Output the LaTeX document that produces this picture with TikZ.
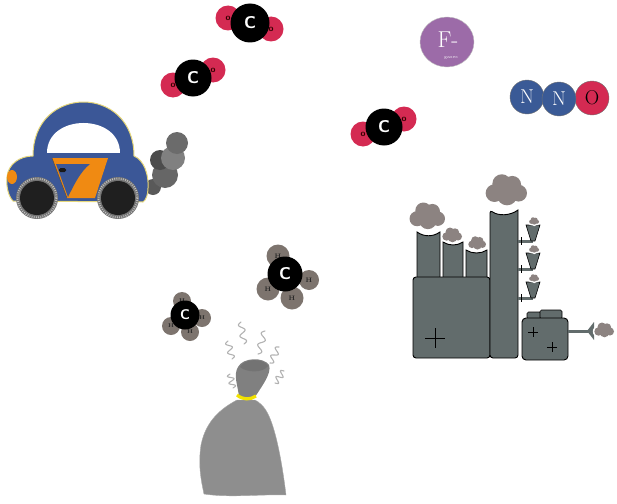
\documentclass[tikz,border=0pt]{standalone}
\usepackage{xcolor}
\usetikzlibrary{shapes.geometric}

\definecolor{carblue}{HTML}{3B5797}
\definecolor{caryellow}{HTML}{E6D77A}
\definecolor{doororange}{HTML}{F08A12}
\definecolor{oxyred}{HTML}{D42A52}
\definecolor{nitroblue}{HTML}{3A5A96}
\definecolor{fgas}{HTML}{9C6BA8}
\definecolor{hgray}{HTML}{7D746E}
\definecolor{smoke}{HTML}{8C8381}
\definecolor{plant}{HTML}{626C6C}
\definecolor{bag}{HTML}{8E8E8E}
\definecolor{bagtie}{HTML}{F2E200}

\tikzset{
    atom/.style={circle, inner sep=0pt},
    carbon/.style={atom, fill=black, text=white, font=\sffamily\bfseries\fontsize{17}{17}\selectfont},
    oxygen/.style={atom, fill=oxyred, minimum size=25pt, text=black!80!red, font=\sffamily\bfseries\fontsize{9}{9}\selectfont},
    hydrogen/.style={atom, fill=hgray, minimum size=23pt, text=black!85, font=\bfseries\fontsize{6.5}{6.5}\selectfont},
    nitrogen/.style={atom, fill=nitroblue, draw=black!55, minimum size=34pt, text=white, font=\fontsize{20}{20}\selectfont},
    plantpart/.style={fill=plant, draw=black, line width=0.9pt},
    stinkline/.style={gray!60, line width=1.1pt, line cap=round},
}

% smoke cloud: x, y, size
\newcommand{\smokepuff}[3]{
    \fill[white] (#1-0.55*#3, #2+0.15*#3) circle (0.42*#3+1.5) (#1-0.2*#3, #2-0.3*#3) circle (0.45*#3+1.5)
        (#1+0.3*#3, #2-0.25*#3) circle (0.42*#3+1.5) (#1+0.6*#3, #2+0.15*#3) circle (0.4*#3+1.5)
        (#1+0.05*#3, #2+0.25*#3) circle (0.48*#3+1.5);
    \fill[smoke] (#1-0.55*#3, #2+0.15*#3) circle (0.42*#3) (#1-0.2*#3, #2-0.3*#3) circle (0.45*#3)
        (#1+0.3*#3, #2-0.25*#3) circle (0.42*#3) (#1+0.6*#3, #2+0.15*#3) circle (0.4*#3)
        (#1+0.05*#3, #2+0.25*#3) circle (0.48*#3);
}

% wavy line from (#1,#2) to (#3,#4)
\newcommand{\stink}[4]{
    \draw[stinkline] plot[domain=0:1, samples=30, smooth]
        ({#1+(#3-#1)*\x - 3*sin(\x*720)*(#4-#2)/veclen(#3-#1,#4-#2)},
         {#2+(#4-#2)*\x + 3*sin(\x*720)*(#3-#1)/veclen(#3-#1,#4-#2)});
}

\begin{document}
\begin{tikzpicture}[x=1pt, y=-1pt]
    \useasboundingbox (0, 0) rectangle (617, 503);

    % CO2 molecules
    \node[oxygen] at (228, 18) (o1a) {o};
    \node[oxygen] at (271, 29) (o1b) {o};
    \node[carbon, minimum size=39pt] at (250, 23) (c1) {C};

    \node[oxygen] at (173, 85) (o2a) {o};
    \node[oxygen] at (213, 70) (o2b) {o};
    \node[carbon, minimum size=37pt] at (193, 78) (c2) {C};

    \node[oxygen] at (363, 134) (o3a) {o};
    \node[oxygen] at (404, 119) (o3b) {o};
    \node[carbon, minimum size=37pt] at (384, 127) (c3) {C};

    % F-gases
    \node[ellipse, fill=fgas, draw=black!25, minimum width=54pt, minimum height=50pt] at (447, 42) (fgases) {};
    \node[text=white, font=\fontsize{23}{23}\selectfont, inner sep=0pt] at (448, 40) (flabel) {F-};
    \node[text=white, font=\fontsize{4.5}{4.5}\selectfont, inner sep=0pt] at (451, 58) (glabel) {gases};

    % N2O
    \node[nitrogen] at (527, 97) (n1) {N};
    \node[nitrogen, fill=oxyred, text=black] at (592, 98) (n3) {O};
    \node[nitrogen] at (559, 99) (n2) {N};

    % car exhaust
    \fill[black!65] (153, 187) circle (8);
    \fill[black!60] (165, 175) circle (13);
    \fill[black!70] (160, 160) circle (10);
    \fill[black!50] (173, 158) circle (12);
    \fill[black!58] (177, 143) circle (11);

    % car body
    \fill[carblue, draw=caryellow, line width=1pt] (13, 201) .. controls (8, 196) and (6, 185) .. (7, 177)
        .. controls (8, 164) and (20, 156) .. (33, 156)
        .. controls (33, 84) and (134, 84) .. (134, 156)
        .. controls (144, 160) and (149, 175) .. (148, 188)
        .. controls (148, 195) and (146, 200) .. (143, 202) -- cycle;
    \fill[white] (47, 153) .. controls (47, 113) and (120, 113) .. (120, 153) -- cycle;
    \fill[doororange] (52, 158) -- (108, 158) -- (95, 198) -- (67, 198) -- cycle;
    \fill[carblue] (56, 164) -- (90, 164) .. controls (80, 172) and (74, 185) .. (68, 197) -- cycle;
    \draw[black!70, line width=0.5pt] (52, 158) -- (67, 198);
    \fill[black!90, rounded corners=1.5] (59, 168) rectangle (66, 172);
    \fill[doororange] (12, 177) ellipse (5 and 7);

    % wheels
    \foreach \wx in {37, 118} {
        \fill[black!55] (\wx, 198) circle (21);
        \draw[black!25, line width=2pt, dash pattern=on 0.8pt off 1.4pt] (\wx, 198) circle (19.5);
        \fill[black!88] (\wx, 198) circle (17);
    }

    % methane
    \node[hydrogen] at (278, 256) (h1a) {H};
    \node[hydrogen] at (268, 289) (h1b) {H};
    \node[hydrogen] at (292, 298) (h1c) {H};
    \node[hydrogen, minimum size=20pt] at (309, 280) (h1d) {H};
    \node[carbon, minimum size=35pt] at (285, 274) (c4) {C};

    \node[hydrogen, minimum size=18pt, font=\bfseries\fontsize{5.5}{5.5}\selectfont] at (182, 301) (h2a) {H};
    \node[hydrogen, minimum size=18pt, font=\bfseries\fontsize{5.5}{5.5}\selectfont] at (171, 326) (h2b) {H};
    \node[hydrogen, minimum size=18pt, font=\bfseries\fontsize{5.5}{5.5}\selectfont] at (190, 332) (h2c) {H};
    \node[hydrogen, minimum size=18pt, font=\bfseries\fontsize{5.5}{5.5}\selectfont] at (202, 318) (h2d) {H};
    \node[carbon, minimum size=29pt, font=\sffamily\bfseries\fontsize{14}{14}\selectfont] at (185, 315) (c5) {C};

    % rubbish bag
    \stink{228}{341}{232}{359}
    \stink{241}{322}{244}{344}
    \stink{265}{331}{258}{354}
    \stink{279}{347}{270}{363}
    \stink{230}{374}{233}{388}
    \stink{284}{371}{275}{383}

    \fill[bag, draw=gray!70, line width=0.4pt] (237, 400) .. controls (222, 408) and (206, 420) .. (201, 445)
        .. controls (198, 465) and (201, 480) .. (204, 494)
        .. controls (230, 498) and (262, 494) .. (286, 495)
        .. controls (283, 470) and (277, 432) .. (268, 414)
        .. controls (264, 406) and (259, 402) .. (255, 400) -- cycle;
    \fill[bag!90!black] (239, 397) .. controls (238, 386) and (233, 375) .. (238, 367)
        .. controls (243, 357) and (264, 357) .. (269, 365)
        .. controls (272, 373) and (262, 386) .. (255, 397) -- cycle;
    \fill[black!55] (240, 367) .. controls (245, 358) and (263, 358) .. (268, 366)
        .. controls (263, 373) and (247, 373) .. cycle;
    \draw[bagtie, line width=3.2pt] (237, 395) .. controls (243, 400) and (250, 400) .. (256, 396);

    % factory
    \draw[plantpart] (417, 277) -- (417, 232) .. controls (424, 237) and (433, 237) .. (440, 232) -- (440, 277);
    \draw[plantpart] (443, 277) -- (443, 242) .. controls (449, 246) and (457, 246) .. (463, 242) -- (463, 277);
    \draw[plantpart] (466, 277) -- (466, 250) .. controls (472, 254) and (481, 254) .. (487, 250) -- (487, 277);
    \draw[plantpart, rounded corners=3] (413, 277) rectangle (490, 358);
    \draw[black, line width=0.8pt] (425, 338) -- (445, 338) (435, 328) -- (435, 348);
    \draw[plantpart, rounded corners=3] (490, 358) -- (490, 210)
        [sharp corners] .. controls (498, 216) and (510, 216) .. (518, 210)
        [rounded corners=3] -- (518, 358) -- cycle;

    % side outlets
    \foreach \ty in {225, 253, 282} {
        \fill[plant] (518, \ty+15) rectangle (533, \ty+18);
        \draw[black, line width=0.6pt] (521, \ty+12) -- (521, \ty+20);
        \draw[plantpart, line width=0.6pt] (526, \ty) -- (540, \ty) -- (535, \ty+16) -- (531, \ty+16) -- cycle;
        \smokepuff{534}{\ty-4}{5}
    }

    % boiler
    \draw[plantpart, line width=0.6pt, rounded corners=1.5] (527, 319) rectangle (541, 312);
    \draw[plantpart, line width=0.6pt, rounded corners=1.5] (540, 319) rectangle (562, 310);
    \draw[plantpart, rounded corners=4] (522, 318) rectangle (568, 360);
    \draw[black, line width=0.7pt] (528, 332) -- (538, 332) (533, 327) -- (533, 337);
    \draw[black, line width=0.7pt] (547, 347) -- (557, 347) (552, 342) -- (552, 352);
    \fill[plant] (568, 329.5) rectangle (589, 332.5);
    \fill[plant] (587, 331) -- (594, 322) -- (594, 340) -- cycle;

    % smoke
    \smokepuff{427}{216}{18}
    \smokepuff{452}{235}{10}
    \smokepuff{477}{243}{9}
    \smokepuff{506}{190}{21}
    \smokepuff{604}{330}{10}
\end{tikzpicture}
\end{document}
